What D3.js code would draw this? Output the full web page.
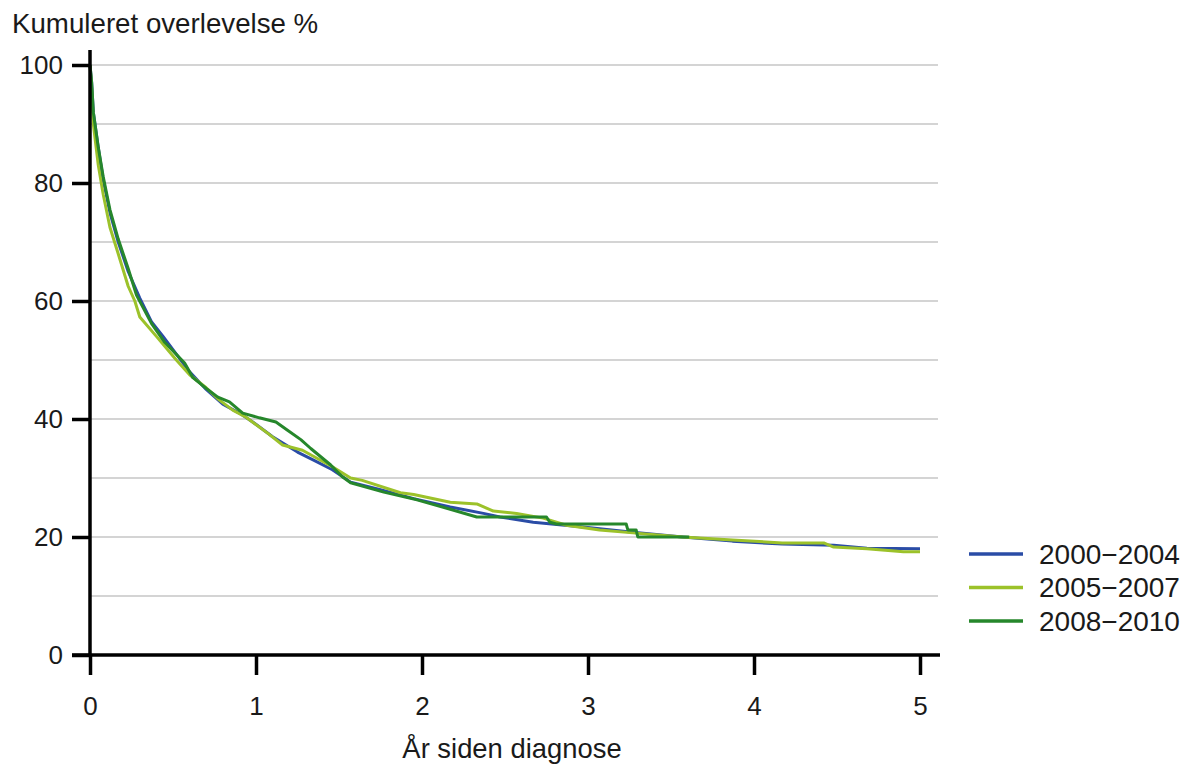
<!DOCTYPE html>
<html lang="da">
<head>
  <meta charset="UTF-8">
  <title>Kumuleret overlevelse</title>
  <style>
    body { margin: 0; background: #fff; }
    text { font-family: "Liberation Sans", Arial, sans-serif; fill: #1a1a1a; }
  </style>
</head>
<body>
  <svg id="svg" width="1181" height="771"></svg>

  <script src="https://d3js.org/d3.v7.min.js"></script>
  <script>
    // years since diagnosis / cumulative survival %
    const years0004 = [0, 0.01, 0.02, 0.05, 0.08, 0.12, 0.17, 0.23, 0.3, 0.37, 0.44, 0.52, 0.6, 0.7, 0.8, 0.9, 0.98, 1.1, 1.25, 1.35, 1.46, 1.57, 1.75, 1.95, 2.17, 2.37, 2.47, 2.67, 2.97, 3.27, 3.57, 3.87, 4.17, 4.48, 4.68, 5.0]
    const surv0004 = [100, 97, 92, 86, 80.5, 75, 70, 65, 60.5, 56.5, 54, 51, 48, 45, 42.5, 41, 39.5, 37, 34.4, 33, 31.4, 29.3, 28, 26.5, 25.1, 24, 23.4, 22.5, 21.7, 20.8, 20, 19.3, 18.8, 18.6, 18.1, 18]

    const years0507 = [0, 0.01, 0.02, 0.05, 0.08, 0.12, 0.17, 0.23, 0.27, 0.3, 0.4, 0.52, 0.6, 0.7, 0.78, 0.86, 0.94, 1.07, 1.16, 1.28, 1.46, 1.57, 1.64, 1.87, 1.95, 2.17, 2.33, 2.43, 2.57, 2.73, 2.87, 3.07, 3.27, 3.57, 3.87, 4.17, 4.42, 4.48, 4.68, 4.9, 5.0]
    const surv0507 = [100, 96, 90, 83, 78, 72.5, 68, 62.5, 60, 57.3, 54, 50, 47.5, 45.3, 43.2, 41.5, 40.3, 37.6, 35.6, 34.7, 31.9, 30, 29.6, 27.5, 27.2, 25.9, 25.6, 24.4, 24, 23.2, 22, 21.2, 20.7, 20, 19.5, 19, 19, 18.3, 18, 17.5, 17.5]

    const years0810 = [0, 0.01, 0.02, 0.05, 0.08, 0.12, 0.17, 0.23, 0.28, 0.37, 0.45, 0.57, 0.62, 0.7, 0.77, 0.84, 0.92, 1.02, 1.12, 1.19, 1.27, 1.33, 1.45, 1.52, 1.57, 1.77, 1.97, 2.17, 2.33, 2.75, 2.77, 2.81, 3.23, 3.24, 3.29, 3.3, 3.61]
    const surv0810 = [100, 97, 92, 86, 81, 75.5, 70.5, 65.5, 61, 56.2, 53, 49.5, 47, 45.2, 43.7, 42.9, 41, 40.2, 39.5, 38.1, 36.5, 35, 32.2, 30.2, 29.2, 27.6, 26.3, 24.7, 23.4, 23.4, 22.5, 22.2, 22.2, 21.2, 21.2, 20, 20]

    const seriesNames = ['2000\u22122004', '2005\u22122007', '2008\u22122010']
    const seriesColors = ['#2a4ca6', '#9cc22a', '#26872b']
    const xTicks = [0, 1, 2, 3, 4, 5]
    const yTicks = [0, 20, 40, 60, 80, 100]
    const gridValues = [10, 20, 30, 40, 50, 60, 70, 80, 90, 100]

    const series = [
      { name: seriesNames[0], color: seriesColors[0], pts: years0004.map((t, i) => [t, surv0004[i]]) },
      { name: seriesNames[1], color: seriesColors[1], pts: years0507.map((t, i) => [t, surv0507[i]]) },
      { name: seriesNames[2], color: seriesColors[2], pts: years0810.map((t, i) => [t, surv0810[i]]) },
    ]

    const margin = { top: 65, left: 90 }
    const width = 830
    const height = 590

    const svg = d3.select('#svg')

    const xscale = d3.scaleLinear().domain([0, 5]).range([margin.left, margin.left + width])
    const yscale = d3.scaleLinear().domain([0, 100]).range([margin.top + height, margin.top])

    // gridlines
    svg.append('g')
      .selectAll('line')
      .data(gridValues)
      .enter()
      .append('line')
      .attr('x1', xscale(0))
      .attr('x2', xscale(5) + 18)
      .attr('y1', d => yscale(d))
      .attr('y2', d => yscale(d))
      .attr('stroke', '#c6c6c6')
      .attr('stroke-width', 1.3)

    // curves
    const line = d3.line()
      .x(d => xscale(d[0]))
      .y(d => yscale(d[1]))

    svg.append('g')
      .selectAll('path')
      .data(series)
      .enter()
      .append('path')
      .attr('d', d => line(d.pts))
      .attr('fill', 'none')
      .attr('stroke', d => d.color)
      .attr('stroke-width', 3)
      .attr('stroke-linejoin', 'round')

    // axes
    const bottomAxis = d3.axisBottom(xscale)
      .tickValues(xTicks)
      .tickFormat(d3.format('d'))
      .tickSize(20)
      .tickPadding(22)
      .tickSizeOuter(0)
    const xAxis = svg.append('g')
      .attr('transform', `translate(0, ${yscale(0)})`)
      .call(bottomAxis)
    xAxis.select('.domain').attr('d', `M${xscale(0) - 18},0H${xscale(5) + 20}`)

    const leftAxis = d3.axisLeft(yscale)
      .tickValues(yTicks)
      .tickSize(18)
      .tickPadding(9)
      .tickSizeOuter(0)
    const yAxis = svg.append('g')
      .attr('transform', `translate(${xscale(0)}, 0)`)
      .call(leftAxis)
    yAxis.select('.domain').attr('d', `M0,${yscale(100) - 15}V${yscale(0)}`)

    svg.selectAll('.domain').attr('stroke', '#000').attr('stroke-width', 3.5)
    svg.selectAll('.tick line').attr('stroke', '#000').attr('stroke-width', 3.5)
    svg.selectAll('.tick text')
      .attr('font-family', '"Liberation Sans", Arial, sans-serif')
      .attr('font-size', 26)
      .attr('fill', '#1a1a1a')

    // titles
    svg.append('text')
      .attr('x', 12)
      .attr('y', 33)
      .attr('font-size', 27.7)
      .text('Kumuleret overlevelse %')

    svg.append('text')
      .attr('x', 512)
      .attr('y', 758)
      .attr('text-anchor', 'middle')
      .attr('font-size', 27.4)
      .text('År siden diagnose')

    // legend
    const legend = svg.append('g')
      .selectAll('g')
      .data(series)
      .enter()
      .append('g')
      .attr('transform', (d, i) => `translate(969, ${554 + i * 33.5})`)

    legend.append('line')
      .attr('x1', 0)
      .attr('x2', 54)
      .attr('stroke', d => d.color)
      .attr('stroke-width', 3.5)

    legend.append('text')
      .attr('x', 70)
      .attr('dy', '0.35em')
      .attr('font-size', 28)
      .text(d => d.name)
  </script>
</body>
</html>
